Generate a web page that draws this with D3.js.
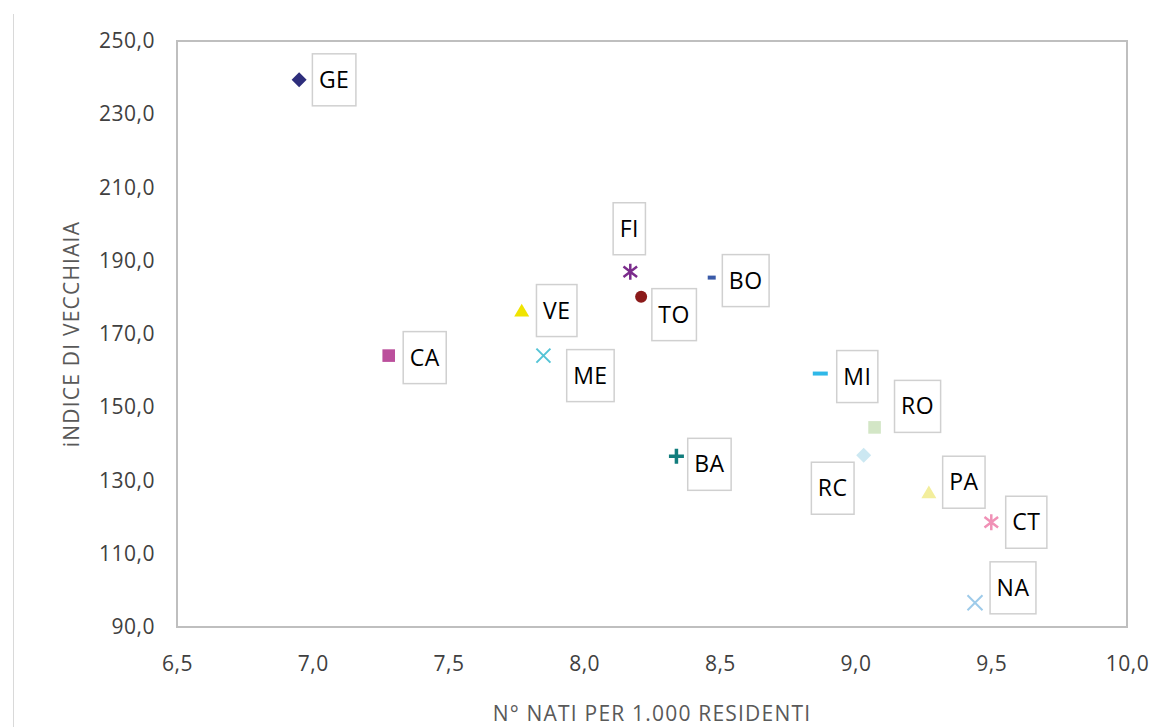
<!DOCTYPE html>
<html>
<head>
<meta charset="utf-8">
<script src="https://cdn.jsdelivr.net/npm/d3@7"></script>
<style>
  body { margin: 0; background: #fff; }
  text { font-family: "Open Sans", "Noto Sans", sans-serif; }
</style>
</head>
<body>
<div id="plot"></div>
<script>
// data
const cities    = ["GE", "FI", "TO", "BO", "VE", "ME", "CA", "MI", "RO", "RC", "BA", "PA", "CT", "NA"];
const natiPer1000 = [6.95, 8.17, 8.21, 8.47, 7.77, 7.85, 7.28, 8.87, 9.07, 9.03, 8.34, 9.27, 9.50, 9.44];
const indiceVecchiaia = [239.4, 187.0, 180.2, 185.4, 176.4, 164.1, 164.1, 159.2, 144.5, 136.9, 136.6, 126.8, 118.6, 96.6];
const xTicks = [6.5, 7.0, 7.5, 8.0, 8.5, 9.0, 9.5, 10.0];
const yTicks = [90, 110, 130, 150, 170, 190, 210, 230, 250];

// marker styles and label box offsets (layout)
const markers = {
  GE: { shape: "diamond",  color: "#2e2e7c", r: 7.5 },
  FI: { shape: "asterisk", color: "#7b2c8c", r: 8 },
  TO: { shape: "circle",   color: "#8b1a1a", r: 6 },
  BO: { shape: "dash",     color: "#3a5aa8", r: 4 },
  VE: { shape: "triangle", color: "#f0e400", r: 7.5 },
  ME: { shape: "times",    color: "#55c4d6", r: 7 },
  CA: { shape: "square",   color: "#bb4f9c", r: 6.3 },
  MI: { shape: "dash",     color: "#2fb8e8", r: 7.5 },
  RO: { shape: "square",   color: "#d3e6c6", r: 6.3 },
  RC: { shape: "diamond",  color: "#cce8f2", r: 7.5 },
  BA: { shape: "plus",     color: "#127d7d", r: 7.5 },
  PA: { shape: "triangle", color: "#f3ee9c", r: 7.5 },
  CT: { shape: "asterisk", color: "#f091b6", r: 8 },
  NA: { shape: "times",    color: "#9ecbea", r: 7.5 }
};
const labelOffsets = {
  GE: [35, 0], FI: [-1, -43], TO: [33, 18], BO: [34, 3], VE: [35, 0],
  ME: [47, 20], CA: [36, 2], MI: [37, 3], RO: [43, -21], RC: [-31, 33],
  BA: [33, 8], PA: [35, -10], CT: [35, 0], NA: [38, -15]
};

const width = 1150, height = 727;
const margin = { left: 177, right: 23, top: 41, bottom: 100 };

const svg = d3.select("#plot").append("svg")
  .attr("width", width)
  .attr("height", height);

// faint outer chart border on the left
svg.append("line")
  .attr("x1", 13.5).attr("x2", 13.5).attr("y1", 14).attr("y2", height)
  .attr("stroke", "#d9d9d9").attr("stroke-width", 1);

const x = d3.scaleLinear()
  .domain([6.5, 10])
  .range([margin.left, width - margin.right]);

const y = d3.scaleLinear()
  .domain([90, 250])
  .range([height - margin.bottom, margin.top]);

const fmt = v => d3.format(".1f")(v).replace(".", ",");

// plot frame
svg.append("rect")
  .attr("x", x(6.5)).attr("y", y(250))
  .attr("width", x(10) - x(6.5)).attr("height", y(90) - y(250))
  .attr("fill", "none").attr("stroke", "#bfbfbf").attr("stroke-width", 2);

const xAxis = svg.append("g")
  .attr("transform", `translate(0,${y(90)})`)
  .call(d3.axisBottom(x).tickValues(xTicks).tickFormat(fmt).tickSize(0).tickPadding(29));
xAxis.select(".domain").remove();
xAxis.selectAll("text").attr("font-size", 21).attr("fill", "#404040")
  .style("font-family", "'Open Sans', sans-serif").style("letter-spacing", "0.5px");

const yAxis = svg.append("g")
  .attr("transform", `translate(${x(6.5)},0)`)
  .call(d3.axisLeft(y).tickValues(yTicks).tickFormat(fmt).tickSize(0).tickPadding(22));
yAxis.select(".domain").remove();
yAxis.selectAll("text").attr("font-size", 21).attr("fill", "#404040")
  .style("font-family", "'Open Sans', sans-serif").style("letter-spacing", "0.5px");

// axis titles
svg.append("text")
  .attr("x", (x(6.5) + x(10)) / 2)
  .attr("y", 721)
  .attr("text-anchor", "middle")
  .attr("font-size", 21).attr("fill", "#595959")
  .style("letter-spacing", "1.2px")
  .text("N° NATI PER 1.000 RESIDENTI");

svg.append("text")
  .attr("transform", `translate(79,${(y(90) + y(250)) / 2}) rotate(-90)`)
  .attr("text-anchor", "middle")
  .attr("font-size", 21).attr("fill", "#595959")
  .style("letter-spacing", "1.2px")
  .text("iNDICE DI VECCHIAIA");

const points = cities.map((c, i) => ({ city: c, nati: natiPer1000[i], vec: indiceVecchiaia[i] }));

function markerPath(shape, r) {
  const p = d3.path();
  switch (shape) {
    case "diamond":
      p.moveTo(0, -r); p.lineTo(r, 0); p.lineTo(0, r); p.lineTo(-r, 0); p.closePath(); break;
    case "square":
      p.rect(-r, -r, 2 * r, 2 * r); break;
    case "triangle":
      p.moveTo(0, -r * 0.9); p.lineTo(r, r * 0.8); p.lineTo(-r, r * 0.8); p.closePath(); break;
    case "circle":
      p.arc(0, 0, r, 0, 2 * Math.PI); break;
    case "times":
      p.moveTo(-r, -r); p.lineTo(r, r); p.moveTo(-r, r); p.lineTo(r, -r); break;
    case "plus":
      p.moveTo(-r, 0); p.lineTo(r, 0); p.moveTo(0, -r); p.lineTo(0, r); break;
    case "asterisk":
      p.moveTo(0, -r); p.lineTo(0, r);
      p.moveTo(-r * 0.85, -r * 0.65); p.lineTo(r * 0.85, r * 0.65);
      p.moveTo(-r * 0.85, r * 0.65); p.lineTo(r * 0.85, -r * 0.65); break;
    case "dash":
      p.moveTo(-r, 0); p.lineTo(r, 0); break;
  }
  return p.toString();
}
const strokeWidths = { times: 2, plus: 3.5, asterisk: 2.5, dash: 4 };

const g = svg.append("g");
points.forEach(d => {
  const m = markers[d.city];
  const path = g.append("path")
    .attr("transform", `translate(${x(d.nati)},${y(d.vec)})`)
    .attr("d", markerPath(m.shape, m.r));
  if (strokeWidths[m.shape]) {
    path.attr("fill", "none").attr("stroke", m.color).attr("stroke-width", strokeWidths[m.shape]);
  } else {
    path.attr("fill", m.color);
  }
});

// data labels in boxes
const labels = svg.append("g");
points.forEach(d => {
  const off = labelOffsets[d.city];
  const cx = x(d.nati) + off[0], cy = y(d.vec) + off[1];
  const t = labels.append("text")
    .attr("x", cx).attr("y", cy - 1)
    .attr("text-anchor", "middle")
    .attr("dominant-baseline", "central")
    .attr("font-size", 23).attr("fill", "#000")
    .style("font-family", "'Open Sans', sans-serif")
    .style("letter-spacing", "0.5px")
    .text(d.city);
  const w = t.node().getComputedTextLength() + 13;
  labels.insert("rect", () => t.node())
    .attr("x", cx - w / 2).attr("y", cy - 26)
    .attr("width", w).attr("height", 52)
    .attr("fill", "#fff").attr("stroke", "#d0d0d0").attr("stroke-width", 1.5);
});
</script>
</body>
</html>
